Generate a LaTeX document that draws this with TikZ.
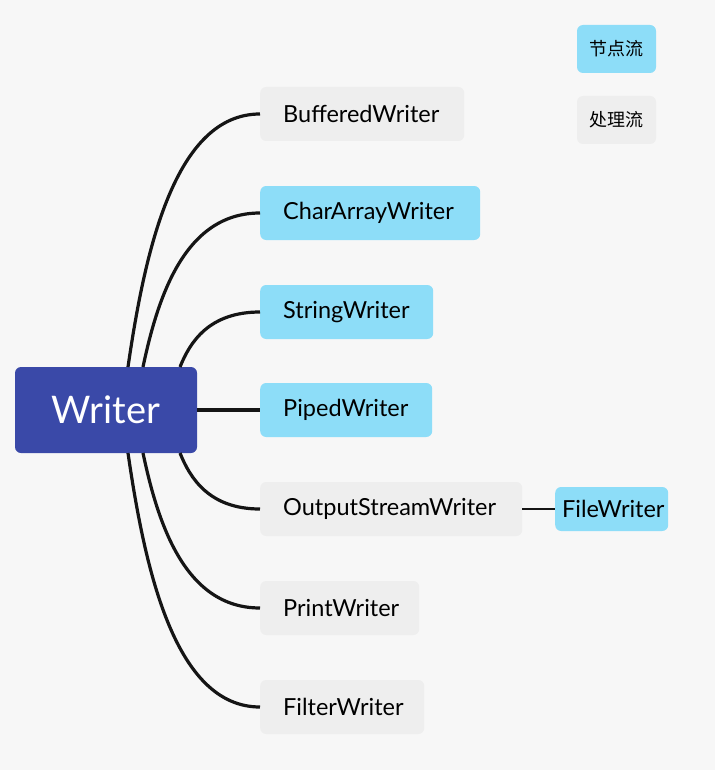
\documentclass[tikz,border=0pt]{standalone}
\usepackage{fontspec}
\setmainfont{Lato}
\newfontfamily\cjk{Noto Sans CJK SC}
\definecolor{bg}{HTML}{F7F7F7}
\definecolor{rootc}{HTML}{3A49A8}
\definecolor{nodec}{HTML}{8DDDF8}
\definecolor{procc}{HTML}{EEEEEE}
\definecolor{linec}{HTML}{151515}
\tikzset{
  leaf/.style={anchor=west, rounded corners=6pt, minimum height=54pt, inner xsep=23pt, inner ysep=0pt, align=left, font=\fontsize{23.5}{26}\selectfont, text=black},
  nodestream/.style={leaf, fill=nodec},
  procstream/.style={leaf, fill=procc},
  legend/.style={rounded corners=6pt, minimum width=79pt, minimum height=48pt, inner sep=0pt, font=\cjk\fontsize{18}{21}\selectfont},
  conn/.style={draw=linec, line width=3.2pt},
}
\begin{document}
\begin{tikzpicture}[x=1pt,y=-1pt]
\fill[bg] (0,0) rectangle (715,770);
\useasboundingbox (0,0) rectangle (715,770);
\node[fill=rootc, rounded corners=6pt, minimum width=182pt, minimum height=86pt, inner sep=0pt, text=white, font=\fontsize{38}{42}\selectfont] (root) at (106,410) {Writer};
\node[procstream, text width=158pt] (bw) at (260,114) {BufferedWriter};
\node[nodestream, text width=174pt] (caw) at (260,213) {CharArrayWriter};
\node[nodestream, text width=127pt] (sw) at (260,312) {StringWriter};
\node[nodestream, text width=126pt] (pw) at (260,410) {PipedWriter};
\node[procstream, text width=216pt] (osw) at (260,509) {OutputStreamWriter};
\node[procstream, text width=113pt] (prw) at (260,608) {PrintWriter};
\node[procstream, text width=118pt] (fw) at (260,707) {FilterWriter};
\node[nodestream, minimum height=44pt, inner xsep=7pt, text width=99pt] (filew) at (555,509) {FileWriter};
\node[legend, fill=nodec] (lg1) at (616.5,49) {节点流};
\node[legend, fill=procc] (lg2) at (616.5,120) {处理流};
% connectors
\coordinate (t1) at (128,367);
\coordinate (t2) at (143,367);
\coordinate (t3) at (180,367);
\coordinate (b3) at (180,453);
\coordinate (b2) at (143,453);
\coordinate (b1) at (128,453);
\draw[conn] (t1) .. controls (145,250) and (175,114) .. (bw.west);
\draw[conn] (t2) .. controls (158,296) and (185,213) .. (caw.west);
\draw[conn] (t3) .. controls (190,342) and (209,312) .. (sw.west);
\draw[conn] (root.east) -- (pw.west);
\draw[conn] (b3) .. controls (190,478) and (209,509) .. (osw.west);
\draw[conn] (b2) .. controls (158,524) and (185,608) .. (prw.west);
\draw[conn] (b1) .. controls (145,570) and (175,707) .. (fw.west);
\draw[draw=linec, line width=2pt] (osw.east) -- (filew.west);
\end{tikzpicture}
\end{document}
